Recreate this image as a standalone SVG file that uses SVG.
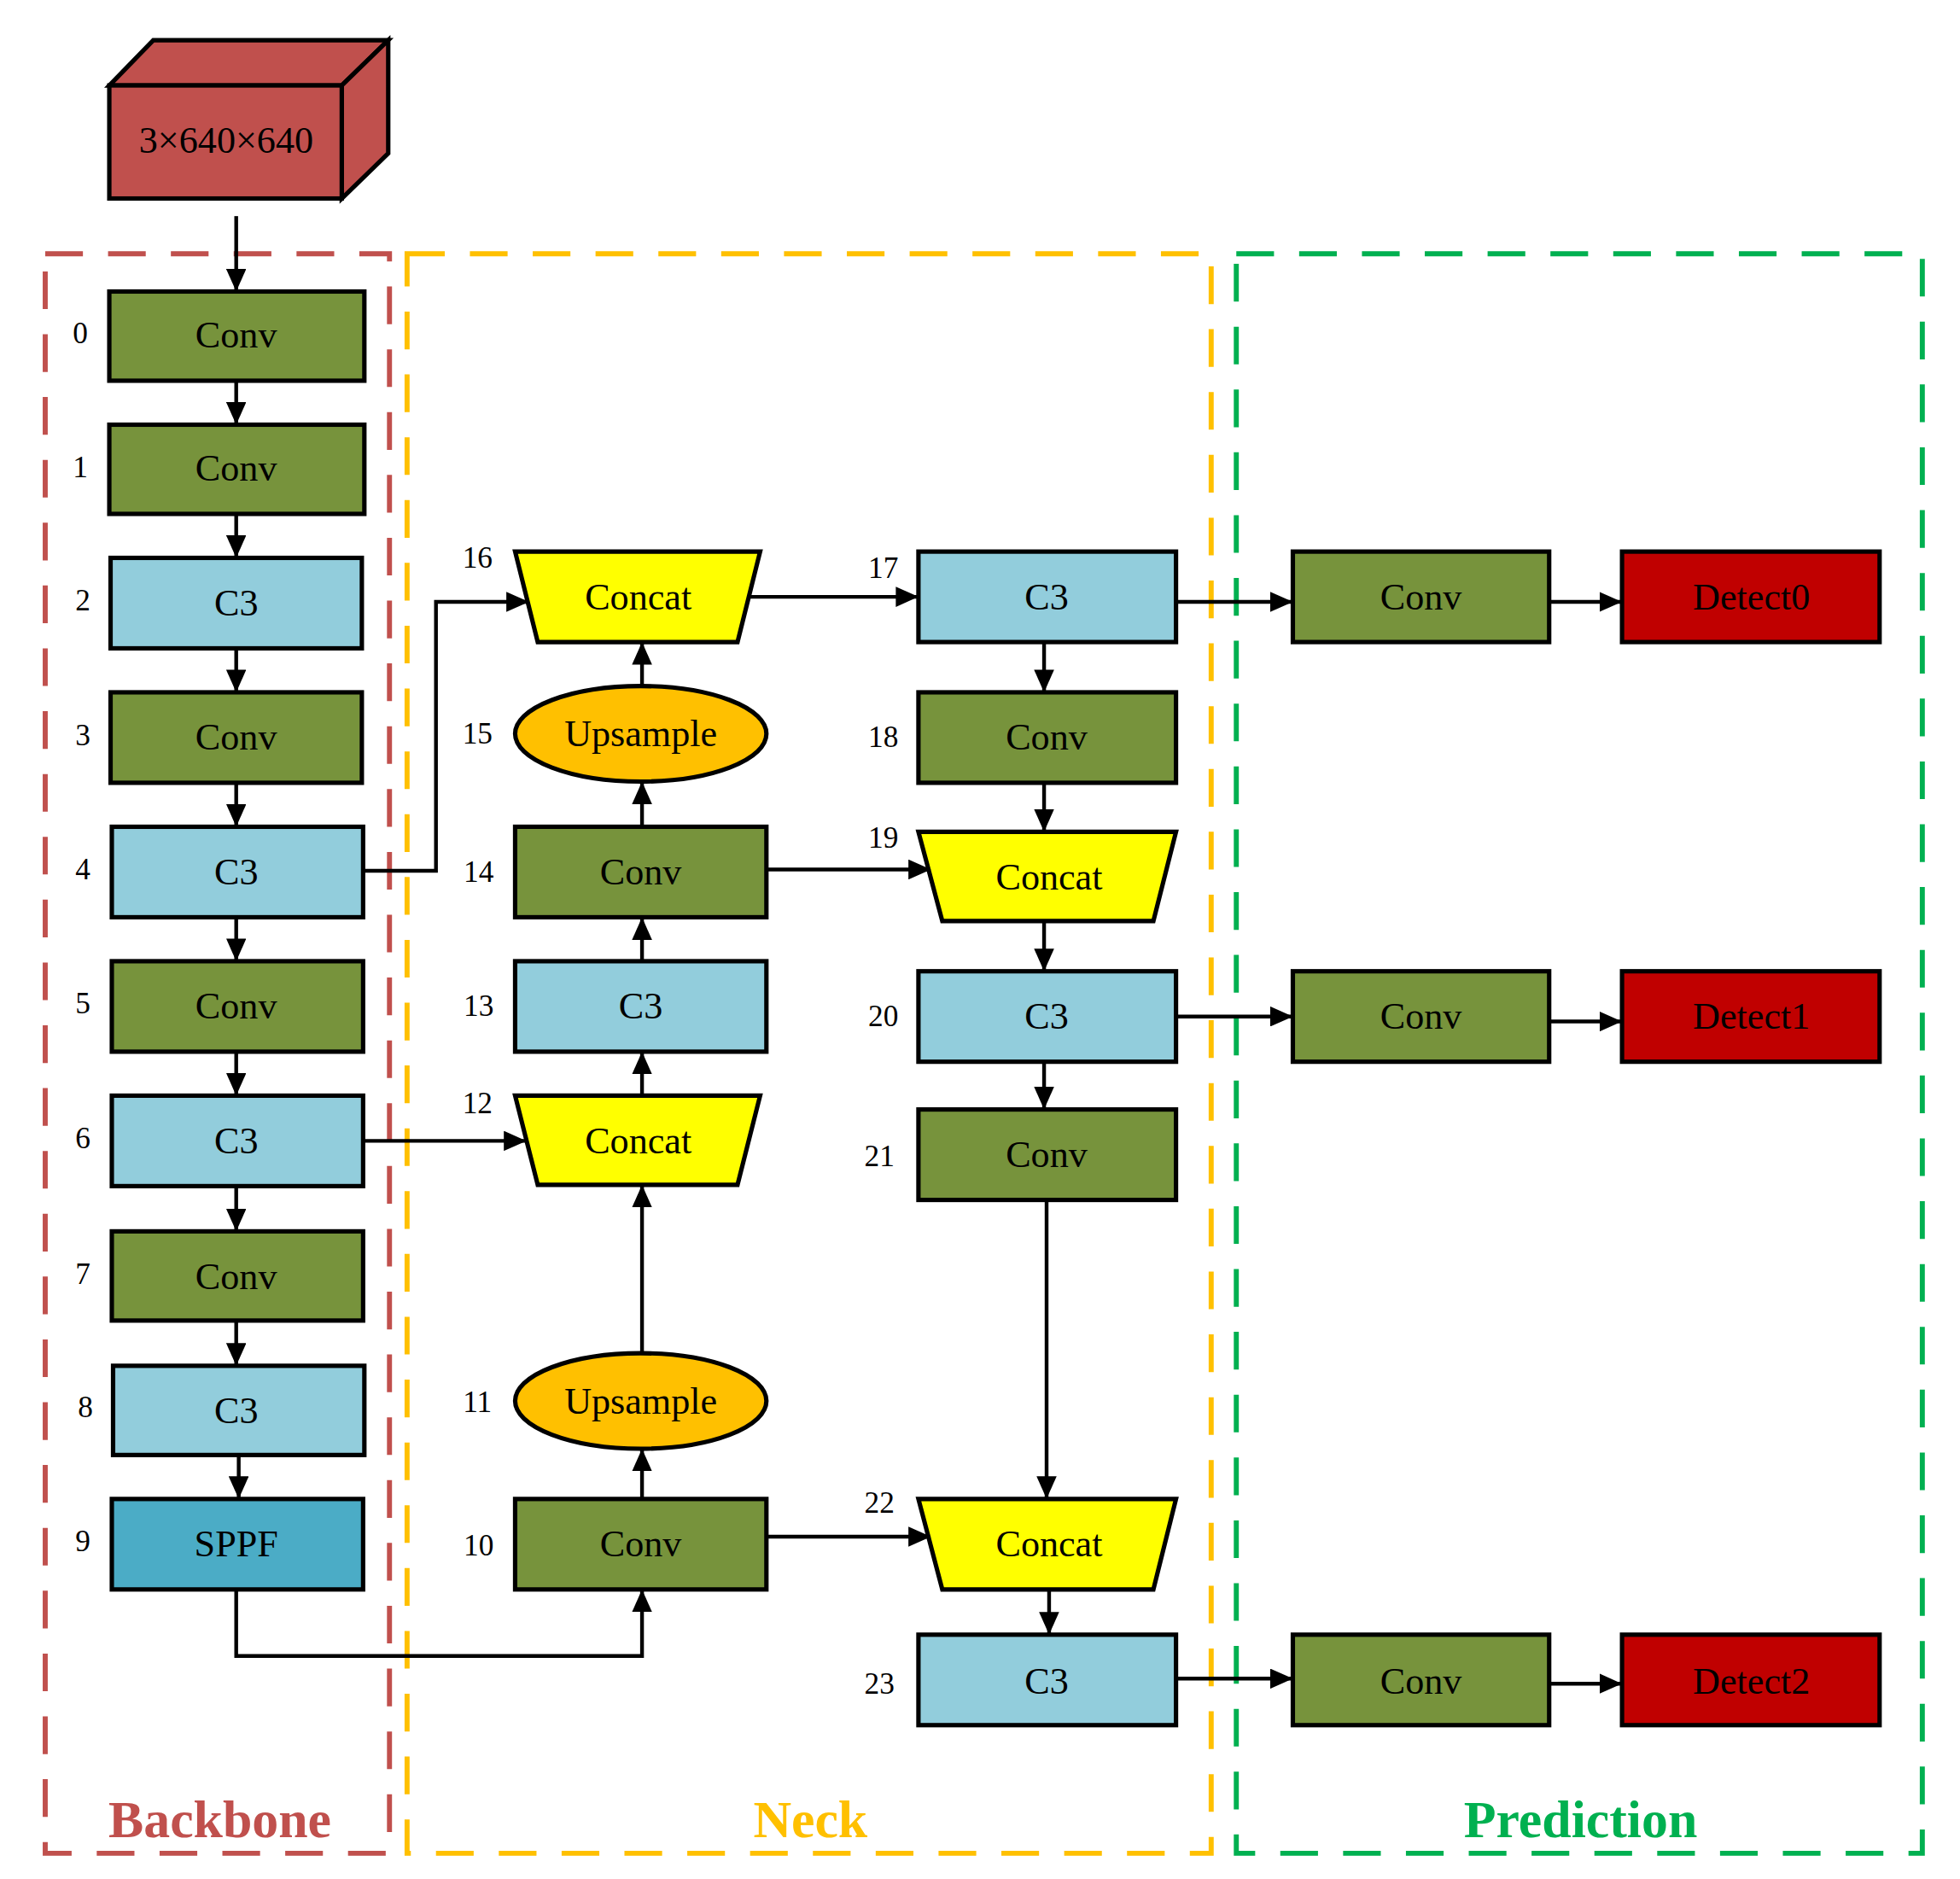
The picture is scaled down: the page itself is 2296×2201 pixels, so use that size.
<svg xmlns="http://www.w3.org/2000/svg" width="2296" height="2201" viewBox="0 0 2296 2201">
<defs>
<marker id="ah" markerUnits="userSpaceOnUse" markerWidth="18" markerHeight="16" refX="17" refY="8" orient="auto"><path d="M0,0 L18,8 L0,16 z" fill="#000"/></marker>
<style>
.n{stroke:#000;stroke-width:3.5}
.g{fill:#77933C}.b{fill:#92CDDC}.y{fill:#FFFF00}.o{fill:#FFC000}.r{fill:#C00000}
.t{font-family:"Liberation Serif",serif;font-size:30px;text-anchor:middle;dominant-baseline:central;fill:#000}
.l{font-family:"Liberation Serif",serif;font-size:24px;text-anchor:middle;dominant-baseline:central;fill:#000}
.c path,.c line{fill:none;stroke:#000;stroke-width:3;marker-end:url(#ah)}
.d{fill:none;stroke-width:4;stroke-dasharray:30 20}
.h{font-family:"Liberation Serif",serif;font-size:42px;font-weight:bold;text-anchor:middle}
</style>
</defs>
<rect width="2296" height="2201" fill="#fff"/>
<g transform="scale(1.4718)">
<g id="regions">
<rect class="d" x="36" y="202" width="274" height="1273" stroke="#C0504D"/>
<rect class="d" x="324" y="202" width="640" height="1273" stroke="#FFC000"/>
<rect class="d" x="984" y="202" width="546" height="1273" stroke="#00B050"/>
<text class="h" x="175" y="1462" fill="#C0504D">Backbone</text>
<text class="h" x="645" y="1462" fill="#FFC000">Neck</text>
<text class="h" x="1258" y="1462" fill="#00B050">Prediction</text>
</g>
<g id="input">
<polygon class="n" points="87,68 122,32 309,32 272,68" fill="#C0504D"/>
<polygon class="n" points="272,68 309,32 309,122 272,158" fill="#C0504D"/>
<rect class="n" x="87" y="68" width="185" height="90" fill="#C0504D"/>
<text class="t" x="180" y="112">3×640×640</text>
</g>
<g id="n0"><rect class="n g" x="87" y="232" width="203" height="71"/><text class="t" x="188" y="267">Conv</text><text class="l" x="64" y="265">0</text></g>
<g id="n1"><rect class="n g" x="87" y="338" width="203" height="71"/><text class="t" x="188" y="373">Conv</text><text class="l" x="64" y="372">1</text></g>
<g id="n2"><rect class="n b" x="88" y="444" width="200" height="72"/><text class="t" x="188" y="480">C3</text><text class="l" x="66" y="478">2</text></g>
<g id="n3"><rect class="n g" x="88" y="551" width="200" height="72"/><text class="t" x="188" y="587">Conv</text><text class="l" x="66" y="585">3</text></g>
<g id="n4"><rect class="n b" x="89" y="658" width="200" height="72"/><text class="t" x="188" y="694">C3</text><text class="l" x="66" y="692">4</text></g>
<g id="n5"><rect class="n g" x="89" y="765" width="200" height="72"/><text class="t" x="188" y="801">Conv</text><text class="l" x="66" y="799">5</text></g>
<g id="n6"><rect class="n b" x="89" y="872" width="200" height="72"/><text class="t" x="188" y="908">C3</text><text class="l" x="66" y="906">6</text></g>
<g id="n7"><rect class="n g" x="89" y="980" width="200" height="71"/><text class="t" x="188" y="1016">Conv</text><text class="l" x="66" y="1014">7</text></g>
<g id="n8"><rect class="n b" x="90" y="1087" width="200" height="71"/><text class="t" x="188" y="1123">C3</text><text class="l" x="68" y="1120">8</text></g>
<g id="n9"><rect class="n" fill="#4BACC6" x="89" y="1193" width="200" height="72"/><text class="t" x="188" y="1229">SPPF</text><text class="l" x="66" y="1227">9</text></g>
<g id="n16"><polygon class="n y" points="410,439 605,439 587,511 428,511"/><text class="t" x="508" y="475">Concat</text><text class="l" x="380" y="444">16</text></g>
<g id="n15"><ellipse class="n o" cx="510" cy="584" rx="100" ry="38"/><text class="t" x="510" y="584">Upsample</text><text class="l" x="380" y="584">15</text></g>
<g id="n14"><rect class="n g" x="410" y="658" width="200" height="72"/><text class="t" x="510" y="694">Conv</text><text class="l" x="381" y="694">14</text></g>
<g id="n13"><rect class="n b" x="410" y="765" width="200" height="72"/><text class="t" x="510" y="801">C3</text><text class="l" x="381" y="801">13</text></g>
<g id="n12"><polygon class="n y" points="410,872 605,872 587,943 428,943"/><text class="t" x="508" y="908">Concat</text><text class="l" x="380" y="878">12</text></g>
<g id="n11"><ellipse class="n o" cx="510" cy="1115" rx="100" ry="38"/><text class="t" x="510" y="1115">Upsample</text><text class="l" x="380" y="1116">11</text></g>
<g id="n10"><rect class="n g" x="410" y="1193" width="200" height="72"/><text class="t" x="510" y="1229">Conv</text><text class="l" x="381" y="1230">10</text></g>
<g id="n17"><rect class="n b" x="731" y="439" width="205" height="72"/><text class="t" x="833" y="475">C3</text><text class="l" x="703" y="452">17</text></g>
<g id="n18"><rect class="n g" x="731" y="551" width="205" height="72"/><text class="t" x="833" y="587">Conv</text><text class="l" x="703" y="587">18</text></g>
<g id="n19"><polygon class="n y" points="731,662 936,662 918,733 750,733"/><text class="t" x="835" y="698">Concat</text><text class="l" x="703" y="667">19</text></g>
<g id="n20"><rect class="n b" x="731" y="773" width="205" height="72"/><text class="t" x="833" y="809">C3</text><text class="l" x="703" y="809">20</text></g>
<g id="n21"><rect class="n g" x="731" y="883" width="205" height="72"/><text class="t" x="833" y="919">Conv</text><text class="l" x="700" y="920">21</text></g>
<g id="n22"><polygon class="n y" points="731,1193 936,1193 918,1265 750,1265"/><text class="t" x="835" y="1229">Concat</text><text class="l" x="700" y="1196">22</text></g>
<g id="n23"><rect class="n b" x="731" y="1301" width="205" height="72"/><text class="t" x="833" y="1338">C3</text><text class="l" x="700" y="1340">23</text></g>
<g id="p0"><rect class="n g" x="1029" y="439" width="204" height="72"/><text class="t" x="1131" y="475">Conv</text></g>
<g id="d0"><rect class="n r" x="1291" y="439" width="205" height="72"/><text class="t" x="1394" y="475">Detect0</text></g>
<g id="p1"><rect class="n g" x="1029" y="773" width="204" height="72"/><text class="t" x="1131" y="809">Conv</text></g>
<g id="d1"><rect class="n r" x="1291" y="773" width="205" height="72"/><text class="t" x="1394" y="809">Detect1</text></g>
<g id="p2"><rect class="n g" x="1029" y="1301" width="204" height="72"/><text class="t" x="1131" y="1338">Conv</text></g>
<g id="d2"><rect class="n r" x="1291" y="1301" width="205" height="72"/><text class="t" x="1394" y="1338">Detect2</text></g>
<g id="connectors" class="c">
<line x1="188" y1="172" x2="188" y2="231"/>
<line x1="188" y1="303" x2="188" y2="337"/>
<line x1="188" y1="409" x2="188" y2="443"/>
<line x1="188" y1="516" x2="188" y2="550"/>
<line x1="188" y1="623" x2="188" y2="657"/>
<line x1="188" y1="730" x2="188" y2="764"/>
<line x1="188" y1="837" x2="188" y2="871"/>
<line x1="188" y1="944" x2="188" y2="979"/>
<line x1="188" y1="1051" x2="188" y2="1086"/>
<line x1="190" y1="1158" x2="190" y2="1192"/>
<path d="M289,693 H347 V479 H420"/>
<line x1="289" y1="908" x2="418" y2="908"/>
<path d="M188,1265 V1318 H511 V1266"/>
<line x1="511" y1="1193" x2="511" y2="1154"/>
<line x1="511" y1="1077" x2="511" y2="944"/>
<line x1="511" y1="872" x2="511" y2="838"/>
<line x1="511" y1="765" x2="511" y2="731"/>
<line x1="511" y1="658" x2="511" y2="623"/>
<line x1="511" y1="546" x2="511" y2="512"/>
<line x1="595" y1="475" x2="730" y2="475"/>
<line x1="610" y1="692" x2="740" y2="692"/>
<line x1="610" y1="1223" x2="740" y2="1223"/>
<line x1="831" y1="511" x2="831" y2="550"/>
<line x1="831" y1="623" x2="831" y2="661"/>
<line x1="831" y1="733" x2="831" y2="772"/>
<line x1="831" y1="845" x2="831" y2="882"/>
<line x1="833" y1="955" x2="833" y2="1192"/>
<line x1="835" y1="1265" x2="835" y2="1300"/>
<line x1="936" y1="479" x2="1028" y2="479"/>
<line x1="1233" y1="479" x2="1290" y2="479"/>
<line x1="936" y1="809" x2="1028" y2="809"/>
<line x1="1233" y1="813" x2="1290" y2="813"/>
<line x1="936" y1="1336" x2="1028" y2="1336"/>
<line x1="1233" y1="1340" x2="1290" y2="1340"/>
</g>
</g>
</svg>
